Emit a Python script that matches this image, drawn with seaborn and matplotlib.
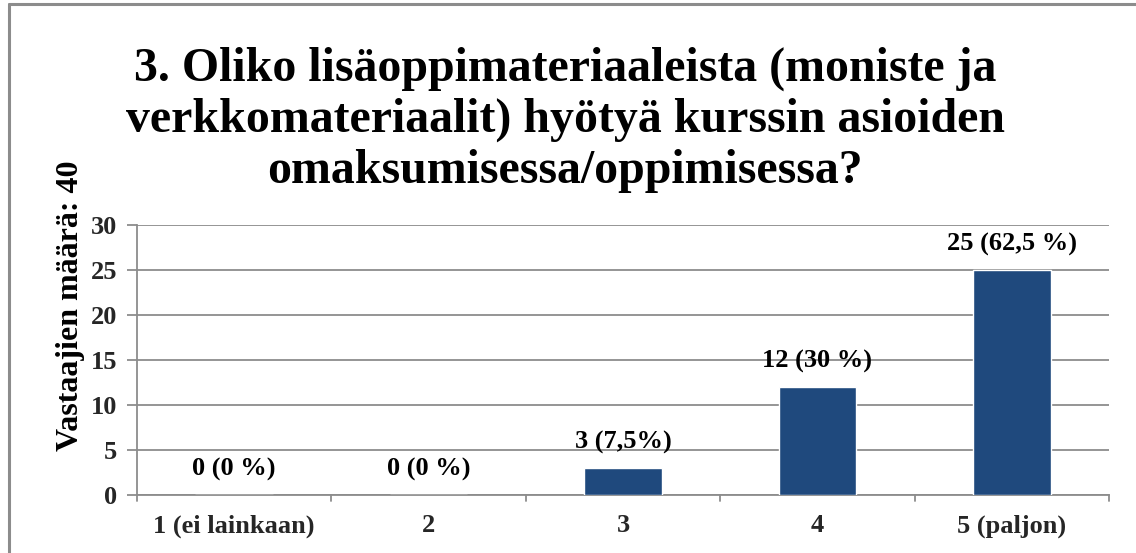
"""Bar chart: usefulness of extra course materials (survey question 3)."""
import matplotlib

matplotlib.use("Agg")
import matplotlib.pyplot as plt
import pandas as pd
import seaborn as sns
from matplotlib.lines import Line2D

categories = ["1 (ei lainkaan)", "2", "3", "4", "5 (paljon)"]
counts = [0, 0, 3, 12, 25]
value_labels = ["0 (0 %)", "0 (0 %)", "3 (7,5%)", "12 (30 %)", "25 (62,5 %)"]
y_ticks = [0, 5, 10, 15, 20, 25, 30]

TITLE = ("3. Oliko lisäoppimateriaaleista (moniste ja\n"
         "verkkomateriaalit) hyötyä kurssin asioiden\n"
         "omaksumisessa/oppimisessa?")
YLABEL = "Vastaajien määrä: 40"

BAR, GRID, INK = "#1f497d", "#8c8c8c", "#000000"
FS = 19

sns.set_theme(style="white")
plt.rcParams.update({
    "font.family": ["Liberation Serif", "DejaVu Serif"],
    "font.weight": "bold",
    "text.color": INK,
})

df = pd.DataFrame({"category": categories, "count": counts})

fig = plt.figure(figsize=(11.36, 5.53), dpi=100)
ax = fig.add_axes([137 / 1136, 1 - 495 / 553, 972 / 1136, 270 / 553])

sns.barplot(data=df, x="category", y="count", color=BAR, width=0.4,
            saturation=1, ax=ax, zorder=3)

ax.set_ylim(0, 30)
ax.set_xlim(-0.5, len(categories) - 0.5)
ax.set_yticks(y_ticks)
ax.set_xticks(range(len(categories)))
ax.set_xticklabels(categories, fontsize=FS, fontweight="bold")
ax.set_yticklabels([str(t) for t in y_ticks], fontsize=FS, fontweight="bold")
ax.set_xlabel("")
ax.set_ylabel("")

# horizontal gridlines only
ax.yaxis.grid(True, color=GRID, linewidth=1.3, zorder=0)
ax.xaxis.grid(False)
for side in ("top", "right"):
    ax.spines[side].set_visible(False)
for side in ("left", "bottom"):
    ax.spines[side].set_color(GRID)
    ax.spines[side].set_linewidth(1.3)
ax.tick_params(axis="y", length=7, width=1.3, color=GRID, pad=7, left=True)
ax.tick_params(axis="x", length=0, pad=14)

# category boundary ticks on x axis, like the spreadsheet version
for b in range(len(categories) + 1):
    ax.plot([b - 0.5, b - 0.5], [0, -0.7], color=GRID, lw=1.3,
            clip_on=False, zorder=4)

for i, (v, lab) in enumerate(zip(counts, value_labels)):
    ax.annotate(lab, (i, v), xytext=(0, 10), textcoords="offset points",
                ha="center", va="bottom", fontsize=FS, fontweight="bold")

fig.text(565 / 1136, 1 - 120 / 553, TITLE, ha="center", va="center",
         fontsize=34.5, fontweight="bold", linespacing=1.2)
fig.text(71 / 1136, 1 - 306 / 553, YLABEL, rotation=90, ha="center",
         va="center", fontsize=23, fontweight="bold")

# frame on the left and top edges
fig.add_artist(Line2D([9 / 1136, 9 / 1136], [0, 1 - 4 / 553],
                      transform=fig.transFigure, color=GRID, lw=2.2))
fig.add_artist(Line2D([9 / 1136, 1], [1 - 4 / 553, 1 - 4 / 553],
                      transform=fig.transFigure, color=GRID, lw=2.2))

fig.savefig("out.png", dpi=100)
